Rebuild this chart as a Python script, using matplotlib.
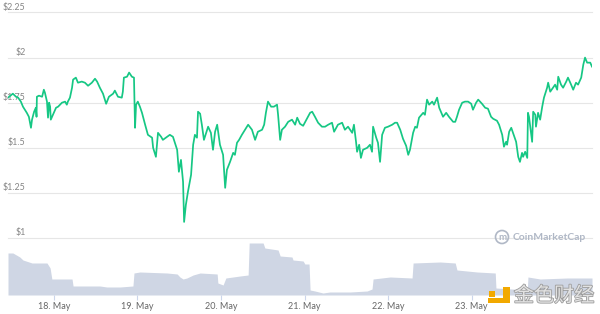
import matplotlib
matplotlib.use("Agg")
import matplotlib.pyplot as plt
import matplotlib.transforms as mtransforms
import matplotlib.patheffects as pe
from matplotlib.patches import Rectangle, Circle

plt.rcParams['font.family'] = ['Lato', 'DejaVu Sans']

# price, hours since 17 May 00:00
price_hours = [10.8, 12.2, 13.1, 13.7, 14.5, 15.1, 16.2, 16.8, 17.4, 17.7, 18.3, 18.8, 19.0, 19.1, 19.7,
               20.6, 21.1, 21.4, 22.0, 22.3, 22.6, 22.9, 23.1, 23.7, 24.6, 25.2, 26.3, 27.2, 27.7, 28.0,
               28.6, 29.2, 29.5, 30.3, 30.9, 32.0, 32.9, 33.8, 34.9, 35.8, 36.4, 37.2, 38.1, 39.0, 39.8,
               41.0, 41.5, 42.4, 43.5, 43.8, 44.1, 45.0, 45.6, 46.4, 47.0, 47.3, 47.6, 48.1, 48.7, 49.3,
               50.2, 51.0, 52.2, 52.5, 53.3, 53.9, 54.8, 55.3, 56.5, 57.3, 58.2, 59.4, 59.9, 60.5, 61.1,
               61.4, 61.9, 62.5, 63.4, 64.0, 64.5, 65.1, 65.4, 66.0, 66.5, 67.1, 68.3, 69.1, 69.7, 70.3,
               70.9, 71.7, 72.6, 73.2, 73.7, 74.6, 75.5, 76.0, 76.6, 77.2, 78.0, 78.9, 79.8, 80.9, 81.8,
               82.6, 83.8, 84.4, 84.9, 85.5, 86.4, 87.2, 88.1, 88.4, 89.0, 89.5, 90.4, 91.3, 92.4, 93.3,
               93.9, 94.7, 95.6, 96.7, 97.6, 98.2, 99.0, 99.9, 101.0, 101.9, 102.8, 103.9, 104.5, 105.6,
               106.8, 107.6, 108.5, 109.7, 110.2, 110.8, 111.1, 111.7, 112.2, 112.8, 114.0, 114.8, 115.4,
               115.7, 116.6, 117.1, 117.7, 118.3, 119.1, 120.0, 121.2, 122.0, 122.6, 123.5, 124.3, 125.2,
               125.8, 126.3, 127.2, 127.8, 128.3, 128.9, 130.1, 130.6, 131.2, 131.8, 132.7, 133.2, 134.1,
               134.7, 135.8, 136.7, 137.5, 138.7, 139.3, 139.8, 140.4, 141.3, 142.1, 143.0, 143.9, 144.4,
               145.3, 145.9, 147.0, 147.9, 148.7, 149.6, 150.2, 151.3, 151.9, 152.8, 153.3, 153.9, 154.2,
               154.8, 155.4, 155.9, 156.8, 157.4, 157.9, 158.5, 158.8, 159.4, 160.0, 160.2, 160.5, 161.4,
               161.7, 162.3, 162.5, 163.1, 163.7, 164.3, 164.8, 165.7, 166.0, 166.6, 167.4, 168.0, 168.6,
               168.9, 169.7, 170.3, 171.2, 171.7, 172.6, 173.2, 174.0, 174.6, 175.5, 176.1, 176.6, 177.2,
               178.1, 178.6]
prices = [1.778, 1.800, 1.783, 1.778, 1.756, 1.728, 1.694, 1.672, 1.611, 1.656, 1.700, 1.722, 1.672, 1.783, 1.789,
          1.783, 1.822, 1.806, 1.756, 1.667, 1.750, 1.728, 1.656, 1.683, 1.722, 1.728, 1.750, 1.756, 1.739, 1.756,
          1.778, 1.833, 1.878, 1.889, 1.861, 1.867, 1.861, 1.844, 1.861, 1.883, 1.867, 1.833, 1.800, 1.744, 1.783,
          1.800, 1.817, 1.783, 1.778, 1.811, 1.889, 1.894, 1.917, 1.894, 1.889, 1.611, 1.739, 1.756, 1.728, 1.694,
          1.628, 1.572, 1.556, 1.500, 1.450, 1.583, 1.561, 1.544, 1.561, 1.572, 1.561, 1.489, 1.367, 1.433, 1.311,
          1.089, 1.183, 1.256, 1.350, 1.517, 1.572, 1.556, 1.700, 1.689, 1.628, 1.544, 1.617, 1.583, 1.489, 1.589,
          1.628, 1.517, 1.461, 1.278, 1.378, 1.422, 1.472, 1.461, 1.528, 1.544, 1.572, 1.600, 1.628, 1.600, 1.544,
          1.589, 1.600, 1.628, 1.694, 1.756, 1.728, 1.728, 1.739, 1.683, 1.544, 1.600, 1.617, 1.644, 1.656, 1.628,
          1.667, 1.633, 1.622, 1.661, 1.694, 1.700, 1.672, 1.639, 1.617, 1.617, 1.628, 1.639, 1.589, 1.628,
          1.639, 1.600, 1.617, 1.583, 1.628, 1.533, 1.478, 1.517, 1.444, 1.489, 1.500, 1.517, 1.478,
          1.617, 1.556, 1.528, 1.422, 1.572, 1.611, 1.617, 1.628, 1.639, 1.639, 1.600, 1.550, 1.511,
          1.461, 1.489, 1.583, 1.617, 1.611, 1.667, 1.694, 1.683, 1.767, 1.739, 1.756, 1.739, 1.778,
          1.722, 1.672, 1.694, 1.672, 1.644, 1.644, 1.672, 1.711, 1.750, 1.756, 1.756, 1.744, 1.711,
          1.750, 1.767, 1.744, 1.722, 1.717, 1.672, 1.661, 1.650, 1.628, 1.572, 1.506, 1.533, 1.517,
          1.589, 1.611, 1.583, 1.533, 1.450, 1.422, 1.472, 1.450, 1.478, 1.444, 1.694, 1.672, 1.533,
          1.700, 1.683, 1.617, 1.694, 1.656, 1.728, 1.778, 1.833, 1.861, 1.811, 1.833, 1.850, 1.822,
          1.894, 1.850, 1.833, 1.867, 1.889, 1.850, 1.822, 1.861, 1.850, 1.889, 1.961, 2.000, 1.972,
          1.972, 1.950]

# volume (billion USD), same time base
vol_hours = [10.8, 12.2, 14.2, 15.1, 17.7, 22.0, 22.9, 23.4, 29.2, 29.5, 37.2, 39.2, 43.0, 46.7, 47.0,
             48.7, 56.5, 59.4, 60.2, 61.1, 62.2, 64.0, 66.0, 70.9, 71.1, 72.6, 73.4, 77.5, 79.8, 80.1,
             84.1, 84.6, 88.4, 89.0, 92.4, 92.7, 95.6, 96.1, 97.3, 97.6, 99.0, 101.3, 103.3, 109.1, 114.0,
             115.4, 115.7, 120.6, 126.9, 127.2, 135.0, 139.3, 139.8, 145.6, 150.8, 151.0, 160.0, 160.2,
             163.7, 171.5, 178.6]
volumes = [4.2, 4.2, 3.8, 3.5, 3.2, 3.2, 2.7, 1.6, 1.6, 0.9, 0.9, 0.8, 0.8, 0.9, 2.2,
           2.3, 2.2, 2.1, 1.8, 1.6, 1.7, 2.0, 2.2, 2.1, 1.2, 1.0, 1.7, 1.9, 2.0, 5.2,
           5.2, 4.7, 4.5, 3.9, 3.8, 3.5, 3.4, 3.1, 3.1, 0.5, 0.4, 0.2, 0.3, 0.3, 0.4,
           0.6, 1.6, 1.8, 1.7, 3.2, 3.3, 3.2, 2.5, 2.3, 2.2, 0.7, 0.5, 1.8,
           1.6, 1.7, 1.7]

y_ticks = [1.0, 1.25, 1.5, 1.75, 2.0, 2.25]
y_labels = ['$1', '$1.25', '$1.5', '$1.75', '$2', '$2.25']
day_hours = [24, 48, 72, 96, 120, 144]
day_labels = ['18. May', '19. May', '20. May', '21. May', '22. May', '23. May']

fig = plt.figure(figsize=(6, 3.14), dpi=100)
left, width = 8 / 600, 584 / 600
ax = fig.add_axes([left, 76 / 314, width, 225.5 / 314])
ax_v = fig.add_axes([left, 19 / 314, width, 57 / 314], sharex=ax)

for a in (ax, ax_v):
    for s in a.spines.values():
        s.set_visible(False)
    a.set_yticks([])
    a.patch.set_alpha(0)

for v in y_ticks:
    ax.axhline(v, color='#e6e6e6', lw=0.8, zorder=0, clip_on=False)

trans = mtransforms.offset_copy(ax.get_yaxis_transform(), fig=fig, x=0, y=2.5, units='dots')
for v, lab in zip(y_ticks, y_labels):
    ax.text(0.03, v, lab, transform=trans, ha='right', va='baseline',
            fontsize=6.4, color='#858585', zorder=1)

ax.plot(price_hours, prices, color='#16c784', lw=1.25, zorder=3)
ax.set_ylim(1.0, 2.25)
ax.set_xlim(price_hours[0], price_hours[-1])
ax.tick_params(axis='x', bottom=False, labelbottom=False)

ax_v.fill_between(vol_hours, volumes, 0, color='#cfd6e4', lw=0)
ax_v.set_ylim(0, 5.7)
ax_v.set_xticks(day_hours)
ax_v.set_xticklabels(day_labels)
ax_v.tick_params(axis='x', length=3.6, width=0.8, color='#ccd6eb', pad=1.5,
                 labelsize=6.5, labelcolor='#666666')

# CoinMarketCap watermark
fig.add_artist(Circle((502, 77), 6.5, transform=mtransforms.IdentityTransform(),
                      fill=False, edgecolor='#b0b8c6', lw=1.2))
fig.text(502 / 600, 77 / 314, 'm', ha='center', va='center', fontsize=7,
         color='#b0b8c6', fontweight='bold')
fig.text(513 / 600, 77 / 314, 'CoinMarketCap', ha='left', va='center', fontsize=7.5,
         color='#b0b8c6', fontweight='bold')

# 金色财经 watermark
for r in [(489, 17, 6, 6), (503, 11, 7, 16), (488, 11, 22, 5)]:
    fig.add_artist(Rectangle(r[:2], r[2], r[3], transform=mtransforms.IdentityTransform(),
                             color='#f2a900', lw=0))
fig.text(554 / 600, 18 / 314, '金色财经', ha='center', va='center', fontsize=14.5,
         color='#e2e2e2', family=['Noto Sans CJK SC', 'DejaVu Sans'],
         path_effects=[pe.withStroke(linewidth=1.2, foreground='#9c9c9c')])

fig.savefig('out.png', dpi=100)
